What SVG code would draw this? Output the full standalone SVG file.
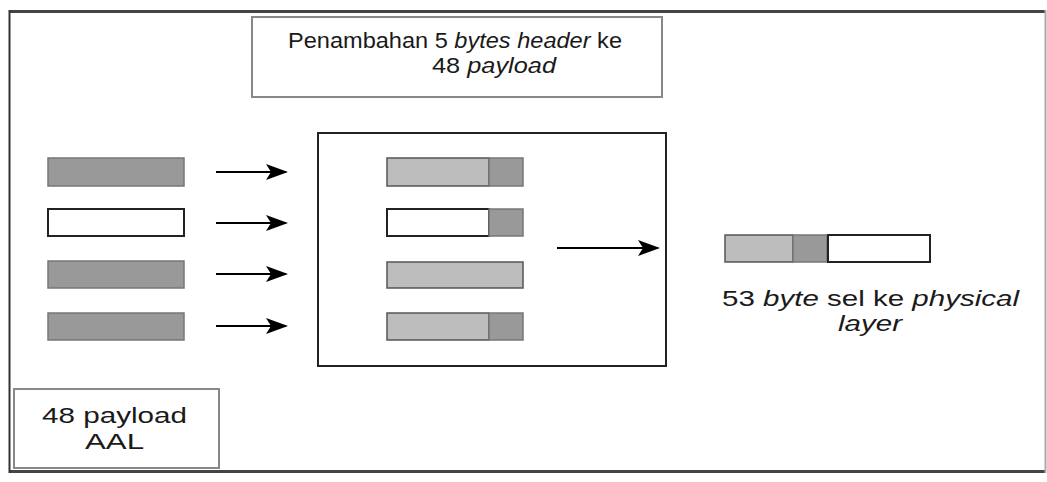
<svg xmlns="http://www.w3.org/2000/svg" width="1047" height="482" viewBox="0 0 1047 482">
  <defs>
    <marker id="arrowhead" markerWidth="22" markerHeight="16" refX="20" refY="8" orient="auto" markerUnits="userSpaceOnUse">
      <path d="M0,0 L22,8 L0,16 L5,8 Z" fill="#000"/>
    </marker>
    <style>
      .lbl { font-family: "Liberation Sans", Arial, sans-serif; font-size: 22px; fill: #1a1a1a; }
      .it { font-style: italic; }
      .cell-dark { fill: #999; stroke: #777; stroke-width: 1.5; }
      .cell-light { fill: #bdbdbd; stroke: #555; stroke-width: 1.5; }
      .cell-white { fill: #fff; stroke: #222; stroke-width: 2; }
      .box { fill: #fff; stroke: #222; stroke-width: 2; }
      .note { fill: #fff; stroke: #888; stroke-width: 2; }
      .conn { stroke: #000; stroke-width: 2; fill: none; marker-end: url(#arrowhead); }
    </style>
  </defs>

  <rect width="1047" height="482" fill="#fff"/>

  <!-- outer frame -->
  <g id="frame">
    <line x1="9" y1="11.5" x2="1046" y2="11.5" stroke="#444" stroke-width="3"/>
    <line x1="9" y1="471.5" x2="1046" y2="471.5" stroke="#444" stroke-width="3"/>
    <line x1="9.5" y1="10" x2="9.5" y2="473" stroke="#333" stroke-width="2"/>
    <line x1="1045.5" y1="10" x2="1045.5" y2="473" stroke="#aaa" stroke-width="2"/>
  </g>

  <!-- caption: header added -->
  <g id="header-note">
    <rect class="note" x="252" y="17" width="410" height="80"/>
    <text class="lbl" x="288" y="48" textLength="334" lengthAdjust="spacingAndGlyphs">Penambahan 5 <tspan class="it">bytes</tspan>  <tspan class="it">header</tspan> ke</text>
    <text class="lbl" x="432" y="73" textLength="124" lengthAdjust="spacingAndGlyphs">48 <tspan class="it">payload</tspan></text>
  </g>

  <!-- incoming 48-byte payloads -->
  <g id="payloads">
    <rect class="cell-dark" x="48" y="158" width="136" height="28"/>
    <rect class="cell-white" x="48" y="209" width="136" height="27"/>
    <rect class="cell-dark" x="48" y="261" width="136" height="27"/>
    <rect class="cell-dark" x="48" y="313" width="136" height="27"/>
  </g>

  <!-- header insertion block -->
  <g id="assembly">
    <rect class="box" x="318" y="133" width="348" height="233"/>
    <rect class="cell-light" x="387" y="158" width="102" height="28"/>
    <rect class="cell-dark" x="489" y="158" width="34" height="28"/>
    <rect class="cell-white" x="387" y="209" width="102" height="27"/>
    <rect class="cell-dark" x="489" y="209" width="34" height="27"/>
    <rect class="cell-light" x="387" y="262" width="136" height="26"/>
    <rect class="cell-light" x="387" y="313" width="102" height="27"/>
    <rect class="cell-dark" x="489" y="313" width="34" height="27"/>
  </g>

  <!-- 53-byte cell -->
  <g id="cell53">
    <rect class="cell-light" x="725" y="235" width="68" height="27"/>
    <rect class="cell-dark" x="793" y="235" width="34" height="27"/>
    <rect class="cell-white" x="828" y="235" width="102" height="27"/>
    <text class="lbl" x="722" y="306" textLength="297" lengthAdjust="spacingAndGlyphs">53 <tspan class="it">byte</tspan> sel ke <tspan class="it">physical</tspan></text>
    <text class="lbl it" x="838" y="331" textLength="64" lengthAdjust="spacingAndGlyphs">layer</text>
  </g>

  <!-- AAL payload note -->
  <g id="aal-note">
    <rect class="note" x="14" y="389" width="205" height="79"/>
    <text class="lbl" x="42" y="423" textLength="145" lengthAdjust="spacingAndGlyphs">48 payload</text>
    <text class="lbl" x="85" y="449" textLength="59" lengthAdjust="spacingAndGlyphs">AAL</text>
  </g>

  <!-- connectors -->
  <g id="connectors">
    <line class="conn" x1="216" y1="172" x2="286" y2="172"/>
    <line class="conn" x1="216" y1="223" x2="286" y2="223"/>
    <line class="conn" x1="216" y1="274" x2="286" y2="274"/>
    <line class="conn" x1="216" y1="326" x2="286" y2="326"/>
    <line class="conn" x1="557" y1="248" x2="658" y2="248"/>
  </g>
</svg>
